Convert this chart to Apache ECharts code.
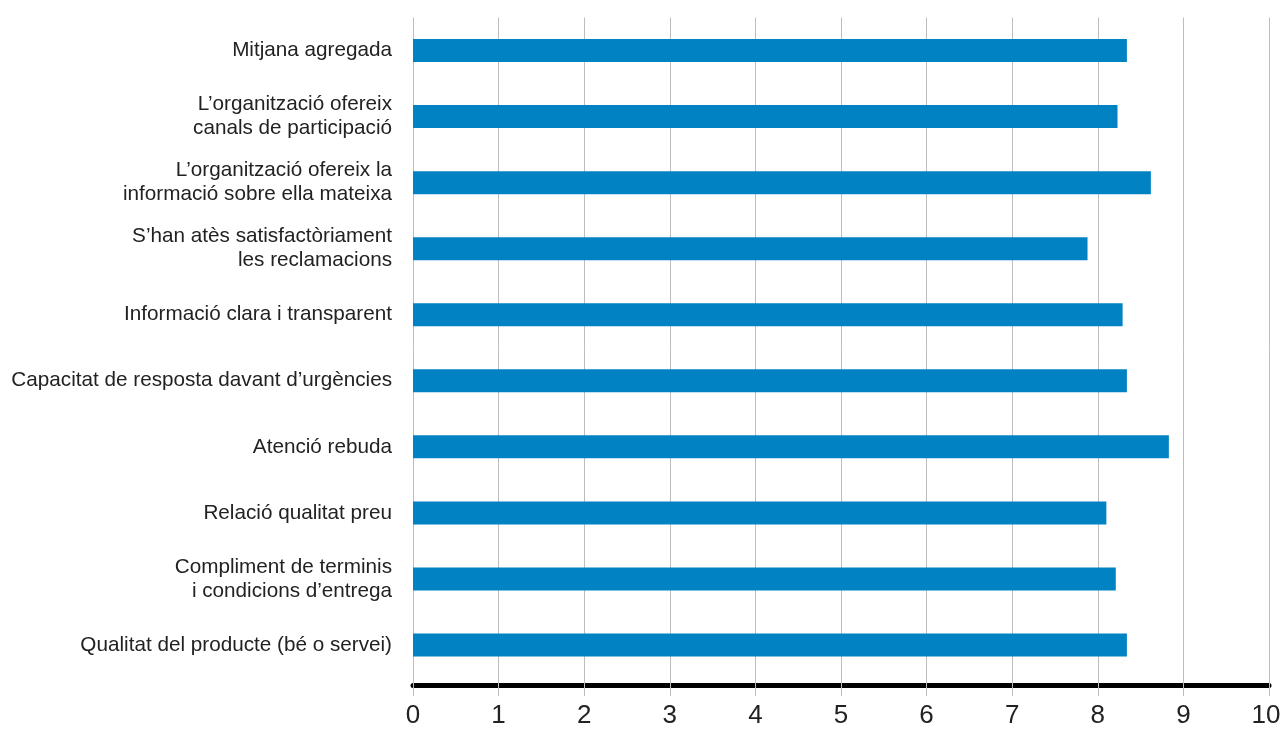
<!DOCTYPE html>
<html><head><meta charset="utf-8">
<script src="https://cdn.jsdelivr.net/npm/echarts@6/dist/echarts.min.js"></script>
<style>html,body{margin:0;padding:0;background:#fff}#c{width:1281px;height:729px}</style>
</head><body><div id="c"></div>
<script>
const categories = [
  "Mitjana agregada",
  "L’organització ofereix\ncanals de participació",
  "L’organització ofereix la\ninformació sobre ella mateixa",
  "S’han atès satisfactòriament\nles reclamacions",
  "Informació clara i transparent",
  "Capacitat de resposta davant d’urgències",
  "Atenció rebuda",
  "Relació qualitat preu",
  "Compliment de terminis\ni condicions d’entrega",
  "Qualitat del producte (bé o servei)"
];
const values = [8.34, 8.23, 8.62, 7.88, 8.29, 8.34, 8.83, 8.10, 8.21, 8.34];
const xMin = 0, xMax = 10, xStep = 1;

const chart = echarts.init(document.getElementById('c'), null, {renderer:'canvas'});
const fontFam = '"Liberation Sans",Arial,sans-serif';
chart.setOption({
  animation:false,
  backgroundColor:'#fff',
  grid:{left:413, right:12, top:17.5, bottom:51, containLabel:false, outerBoundsMode:'none'},
  xAxis:[{
    type:'value', min:xMin, max:xMax, interval:xStep,
    axisLine:{show:false},
    axisTick:{show:true, length:18, lineStyle:{color:'#bdbdbd', width:1}},
    axisLabel:{show:false},
    splitLine:{show:true, lineStyle:{color:'#bdbdbd', width:1}}
  },{
    type:'value', min:xMin, max:xMax, interval:xStep, position:'bottom', offset:7,
    axisLine:{show:true, lineStyle:{color:'#000', width:5}},
    axisTick:{show:false},
    splitLine:{show:false},
    axisLabel:{show:true, color:'#222', fontSize:26, fontFamily:fontFam, margin:18,
      formatter: v => v === xMax ? '{e|' + v + '}' : String(v),
      rich:{e:{fontSize:26, fontFamily:fontFam, color:'#222', padding:[0,6,0,0]}}}
  }],
  yAxis:{
    type:'category', data:categories, inverse:true,
    axisLine:{show:false}, axisTick:{show:false}, splitLine:{show:false},
    axisLabel:{color:'#222', fontSize:20.7, fontFamily:fontFam, margin:21, align:'right', lineHeight:24}
  },
  series:[{
    type:'bar', data:values, xAxisIndex:0, barWidth:23,
    itemStyle:{color:'#0082c3'}
  }]
});
</script></body></html>
